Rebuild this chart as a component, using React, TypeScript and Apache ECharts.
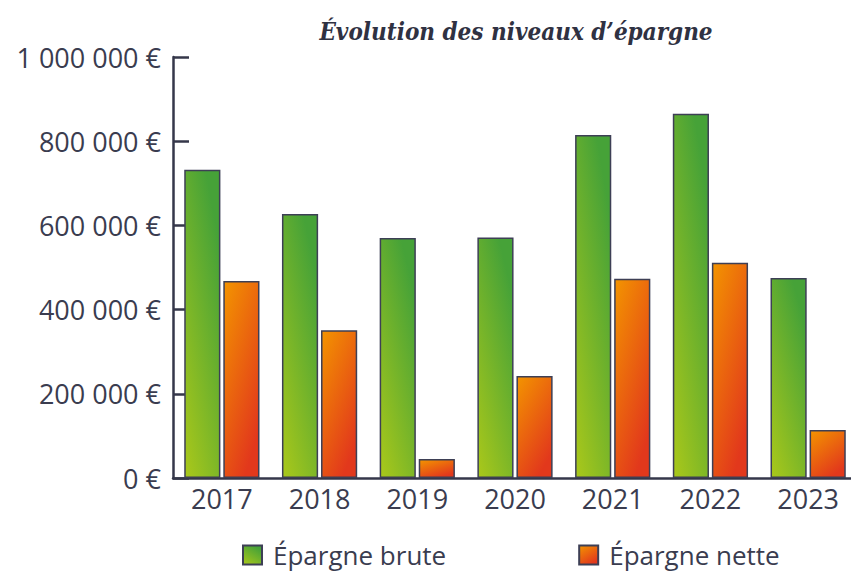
import React, { useEffect, useRef } from "react";
import * as echarts from "echarts";

const years = ["2017", "2018", "2019", "2020", "2021", "2022", "2023"];
const epargneBrute = [732000, 627000, 570000, 571000, 815000, 865000, 475000];
const epargneNette = [468000, 351000, 45000, 242000, 473000, 511000, 114000];
const titleText = "Évolution des niveaux d’épargne";
const seriesNames = ["Épargne brute", "Épargne nette"];

const fmt = (v: number) =>
  String(Math.round(v)).replace(/\B(?=(\d{3})+(?!\d))/g, " ") + " €";

export default function App() {
  const ref = useRef<HTMLDivElement>(null);
  useEffect(() => {
    if (!ref.current) return;
    const chart = echarts.init(ref.current, undefined, { renderer: "svg" });
    const green = new echarts.graphic.LinearGradient(0, 1, 0.6, 0, [
      { offset: 0, color: "#aac81a" },
      { offset: 1, color: "#46a238" },
    ]);
    const orange = new echarts.graphic.LinearGradient(0, 0, 0.6, 1, [
      { offset: 0, color: "#f39400" },
      { offset: 1, color: "#e2381c" },
    ]);
    const border = "#3d3f55";
    const labelFont = { fontFamily: "Open Sans", fontSize: 27, color: "#3a3c4f" };
    chart.setOption({
      animation: false,
      title: {
        text: titleText,
        left: 511,
        textAlign: "center",
        top: 14,
        textStyle: {
          fontFamily: "DejaVu Serif Condensed",
          fontStyle: "italic",
          fontWeight: "bold",
          fontSize: 24,
          color: "#2f3142",
        },
      },
      grid: { left: 173, right: 0, top: 57, bottom: 95, containLabel: false },
      legend: {
        bottom: 0,
        left: 237,
        itemGap: 132,
        itemWidth: 19,
        itemHeight: 19,
        icon: "rect",
        textStyle: { fontFamily: "Open Sans", fontSize: 26, color: "#3a3c4f", padding: [0, 0, 0, 6] },
        data: seriesNames,
      },
      xAxis: {
        type: "category",
        data: years,
        axisLine: { lineStyle: { color: "#35374a", width: 2.5 } },
        axisTick: { show: false },
        axisLabel: { ...labelFont, margin: 7 },
      },
      yAxis: {
        type: "value",
        min: 0,
        max: 1000000,
        interval: 200000,
        splitLine: { show: false },
        axisLine: { show: true, lineStyle: { color: "#35374a", width: 2.5 } },
        axisTick: { show: true, inside: true, length: 16, lineStyle: { color: "#35374a", width: 2.5 } },
        axisLabel: { ...labelFont, margin: 12, formatter: fmt },
      },
      series: [
        {
          name: seriesNames[0],
          type: "bar",
          data: epargneBrute,
          barGap: "8%",
          barCategoryGap: "23%",
          itemStyle: { color: green, borderColor: border, borderWidth: 1.5 },
        },
        {
          name: seriesNames[1],
          type: "bar",
          data: epargneNette,
          itemStyle: { color: orange, borderColor: border, borderWidth: 1.5 },
        },
      ],
    });
    return () => chart.dispose();
  }, []);
  return (
    <div style={{ width: 851, height: 573, position: "absolute", left: 0, top: 0, overflow: "hidden" }}>
      <div ref={ref} style={{ width: 857, height: 573 }} />
    </div>
  );
}
